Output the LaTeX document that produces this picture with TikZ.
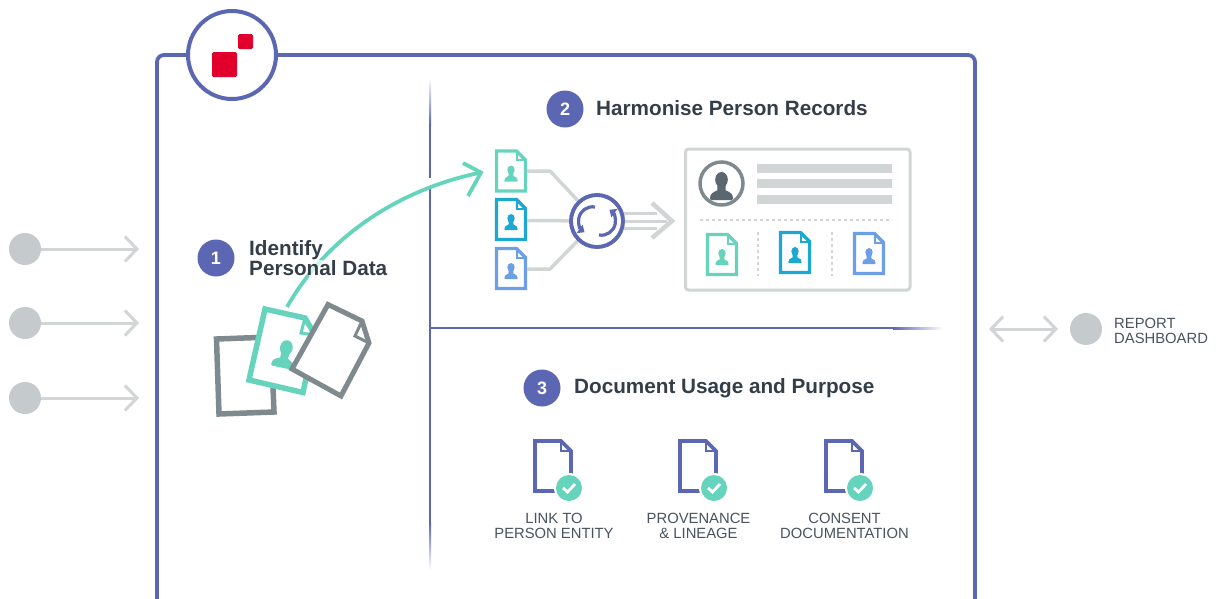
\documentclass[tikz,border=0pt]{standalone}
\usepackage{fontspec}
\setmainfont{Liberation Sans}
\usetikzlibrary{arrows.meta}
\definecolor{mainblue}{HTML}{5B67B3}
\definecolor{docteal}{HTML}{66D4BD}
\definecolor{docblue}{HTML}{1DA7D3}
\definecolor{doclight}{HTML}{6D9FE6}
\definecolor{docgray}{HTML}{7F8A8F}
\definecolor{slate}{HTML}{5A6670}
\definecolor{linegray}{HTML}{D2D5D6}
\definecolor{dotgray}{HTML}{C5CACC}
\definecolor{inktext}{HTML}{333E48}
\definecolor{captext}{HTML}{48535D}
\definecolor{logored}{HTML}{E0002B}
\tikzset{
  numdot/.style={circle,fill=mainblue,text=white,inner sep=0pt,minimum size=37pt,font=\bfseries\fontsize{18}{18}\selectfont},
  heading/.style={anchor=west,inner sep=0pt,text=inktext,font=\bfseries\fontsize{20.7}{20}\selectfont},
  caption/.style={align=center,inner sep=0pt,text=captext,font=\fontsize{14.8}{15}\selectfont},
  graydot/.style={circle,fill=dotgray,inner sep=0pt,minimum size=32pt},
  barb/.tip={Straight Barb[length=12pt,width=25pt,line width=3pt]},
  feedline/.style={draw=linegray,line width=3pt,-barb},
  mergeline/.style={draw=linegray,line width=3.5pt},
  pics/person/.style={code={
    \fill[#1] (0,-0.45) ellipse [x radius=0.55,y radius=0.55];
    \fill[#1] (-1,0.9) .. controls (-1,0.55) and (-0.75,0.45) .. (-0.35,0.3) -- (-0.35,-0.2) -- (0.35,-0.2) -- (0.35,0.3) .. controls (0.75,0.45) and (1,0.55) .. (1,0.9) .. controls (1,1) .. (0.9,1) -- (-0.9,1) .. controls (-1,1) .. cycle;
  }},
  pics/filedoc/.style={code={
    \draw[#1,line width=3.2pt,fill=white,miter limit=3] (0,0) -- (20,0) -- (29,9) -- (29,40) -- (0,40) -- cycle;
    \draw[#1,line width=2pt] (20,0) -- (20,9) -- (29,9);
    \path (14.5,22.5) pic[xscale=6.7,yscale=8] {person=#1};
  }},
  pics/checkdoc/.style={code={
    \draw[mainblue,line width=3.6pt,fill=white] (0,0) -- (26,0) -- (36,10) -- (36,50) -- (0,50) -- cycle;
    \draw[mainblue,line width=2.4pt] (26,0) -- (26,10) -- (36,10);
    \fill[white] (34,47) circle (15);
    \fill[docteal] (34,47) circle (13);
    \draw[white,line width=2.8pt] (28,47) -- (32.5,51) -- (40,43);
  }},
}
\begin{document}
\begin{tikzpicture}[x=1pt,y=-1pt]
    \useasboundingbox (0,0) rectangle (1217,598);

    \draw [mainblue,line width=3.8pt,rounded corners=7pt] (157,55) rectangle (975,640); % frame
    \node [circle,draw=mainblue,line width=4pt,fill=white,minimum size=88pt,inner sep=0pt] (logo) at (232,55) {};
    \fill [logored,rounded corners=1.5pt] (212,52) rectangle (237,77);
    \fill [logored,rounded corners=1.5pt] (238,34) rectangle (253,49);

    \shade [top color=white,bottom color=mainblue] (429,78) rectangle (431,125); % dividers
    \fill [mainblue] (429,125) rectangle (431,178);
    \fill [mainblue] (429,189) rectangle (431,523);
    \shade [top color=mainblue,bottom color=white] (429,523) rectangle (431,570);
    \fill [mainblue] (431,327) rectangle (893,329);
    \shade [left color=mainblue,right color=white] (893,327) rectangle (943,329);

    % inputs
    \node [graydot] (dot1) at (25,249) {};
    \node [graydot] (dot2) at (25,323) {};
    \node [graydot] (dot3) at (25,398) {};
    \coordinate (in1) at (139,249);
    \coordinate (in2) at (139,323);
    \coordinate (in3) at (139,398);
    \draw [feedline] (dot1) -- (in1);
    \draw [feedline] (dot2) -- (in2);
    \draw [feedline] (dot3) -- (in3);

    % report
    \node [graydot] (dot4) at (1086,329) {};
    \coordinate (outL) at (989,329);
    \coordinate (outR) at (1058,329);
    \draw [feedline,barb-barb] (outL) -- (outR);
    \node [anchor=west,align=left,inner sep=0pt,text=captext,font=\fontsize{14.8}{15}\selectfont] (report) at (1114,331) {REPORT\\DASHBOARD};

    % step 1
    \node [numdot] (num1) at (216,258) {1};
    \coordinate (flowA) at (287,307);
    \coordinate (flowB) at (481,172.5);
    \draw [docteal,line width=3.8pt] (flowA) .. controls (325,240) and (395,190) .. (flowB);
    \draw [docteal,line width=3.8pt,miter limit=4] (463,163) -- (flowB) -- (468,196); % curve head
    \fill [white,opacity=.7] (309,260) rectangle (329,278);
    \node [heading,align=left] (step1) at (249,258.5) {Identify\\Personal Data};
    \draw [docgray,line width=5.5pt,fill=white] (216.5,339) -- (219,414) -- (274,412) -- (271,337) -- cycle; % back page
    \draw [docteal,line width=5.5pt,fill=white] (265,309) -- (305,318) -- (315,335) -- (303,392.5) -- (249,380) -- cycle; % middle page
    \draw [docteal,line width=3pt] (305,318) -- (301,333) -- (315,335);
    \path (285,354) pic [rotate=-12,xscale=11.5,yscale=14] {person=docteal};
    \draw [docgray,line width=5pt,fill=white] (328,304.5) -- (362,321) -- (369,343) -- (341,396) -- (292,369) -- cycle; % front page
    \draw [docgray,line width=3pt] (362,321) -- (355,336) -- (369,343);

    % step 2
    \node [numdot] (num2) at (565,109) {2};
    \node [heading] (step2) at (596,108) {Harmonise Person Records};
    \path (496.5,151) pic {filedoc=docteal};
    \path (496.5,199.5) pic {filedoc=docblue};
    \path (496.5,248.5) pic {filedoc=doclight};
    \node [circle,draw=mainblue,line width=3.6pt,fill=white,minimum size=52pt,inner sep=0pt] (sync) at (597,221) {};
    \coordinate (rec1) at (527,171);
    \coordinate (rec2) at (527,220.5);
    \coordinate (rec3) at (527,269);
    \draw [mergeline] (rec1) -- (550,171) -- (sync);
    \draw [mergeline] (rec2) -- (sync);
    \draw [mergeline] (rec3) -- (550,269) -- (sync);
    \draw [mainblue,line width=3.2pt,-{Triangle[length=6pt,width=10pt]}] (595,207) arc [start angle=-80,end angle=-235,radius=14];
    \draw [mainblue,line width=3.2pt,-{Triangle[length=6pt,width=10pt]}] (599,235) arc [start angle=100,end angle=-55,radius=14];
    \coordinate (merged1) at (657,213);
    \coordinate (merged2) at (667,221);
    \coordinate (merged3) at (657,228.5);
    \draw [mergeline,line width=3pt] (sync) -- (merged2);
    \draw [mergeline,line width=3pt] (624,213) -- (merged1);
    \draw [mergeline,line width=3pt] (624,228.5) -- (merged3);
    \draw [mergeline,line width=4.5pt] (652,203) -- (672,221) -- (652,238);
    \node [circle,draw=mainblue,line width=3.6pt,minimum size=52pt,inner sep=0pt] (syncring) at (597,221) {};

    % person card
    \draw [mergeline,line width=3pt,rounded corners=3pt,fill=white] (685.5,149) rectangle (910,290);
    \node [circle,draw=docgray,line width=3.5pt,fill=white,minimum size=43pt,inner sep=0pt] (avatar) at (721.5,183.5) {};
    \path (721.5,186) pic [xscale=11.5,yscale=14] {person=slate};
    \fill [linegray] (757,164) rectangle (892,173);
    \fill [linegray] (757,179) rectangle (892,188);
    \fill [linegray] (757,195) rectangle (892,204);
    \draw [linegray,line width=1.8pt,dash pattern=on 3pt off 3pt] (700,220) -- (892,220);
    \draw [linegray,line width=1.8pt,dash pattern=on 3pt off 3pt] (758,232) -- (758,276);
    \draw [linegray,line width=1.8pt,dash pattern=on 3pt off 3pt] (832,232) -- (832,276);
    \path (707.5,234.5) pic {filedoc=docteal};
    \path (780.5,232.5) pic {filedoc=docblue};
    \path (854.5,233.5) pic {filedoc=doclight};

    % step 3
    \node [numdot] (num3) at (542,388) {3};
    \node [heading] (step3) at (574,388.5) {Document Usage and Purpose};
    \path (535,441) pic {checkdoc};
    \path (680,441) pic {checkdoc};
    \path (826,441) pic {checkdoc};
    \node [caption] (link) at (554,526) {LINK TO\\PERSON ENTITY};
    \node [caption] (prov) at (698.5,526) {PROVENANCE\\\& LINEAGE};
    \node [caption] (consent) at (844.5,526) {CONSENT\\DOCUMENTATION};
\end{tikzpicture}
\end{document}
